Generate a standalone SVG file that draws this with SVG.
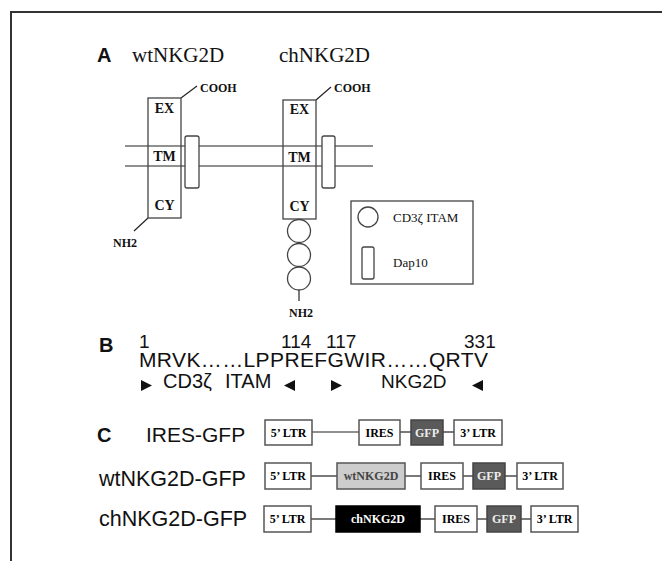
<svg xmlns="http://www.w3.org/2000/svg" width="662" height="561" viewBox="0 0 662 561">
<style>
.ser{font-family:"Liberation Serif","Times New Roman",serif;fill:#111}
.sb{font-family:"Liberation Serif","Times New Roman",serif;font-weight:bold;fill:#111}
.sans{font-family:"Liberation Sans",Arial,sans-serif;fill:#111}
.lab{font-family:"Liberation Sans",Arial,sans-serif;font-weight:bold;fill:#111}
.ln{stroke:#222;stroke-width:1.2;fill:none}
.box{fill:#fff;stroke:#555;stroke-width:1.5}
.mol{fill:none;stroke:#444;stroke-width:1.3}
.wf{fill:#fff;stroke:#444;stroke-width:1.3}
.bt{font-family:"Liberation Serif","Times New Roman",serif;font-weight:bold;font-size:12px;text-anchor:middle}
</style>
<rect width="662" height="561" fill="#fff"/>
<path d="M11 561 V12 H662" fill="none" stroke="#333" stroke-width="2"/>

<!-- Panel A -->
<text class="lab" x="97" y="62" font-size="20">A</text>
<text class="ser" x="132" y="62" font-size="21">wtNKG2D</text>
<text class="ser" x="279" y="62" font-size="21">chNKG2D</text>

<g id="membrane">
<line class="ln" x1="125" y1="146" x2="373" y2="146"/>
<line class="ln" x1="125" y1="166" x2="373" y2="166"/>
</g>

<g id="connectors">
<line class="ln" x1="181" y1="98" x2="197" y2="86"/>
<line class="ln" x1="148" y1="218" x2="134" y2="231"/>
<line class="ln" x1="316" y1="100" x2="331" y2="87"/>
<line class="ln" x1="299" y1="290" x2="299" y2="301"/>
<line class="ln" x1="312" y1="432" x2="359" y2="432"/>
<line class="ln" x1="400" y1="432" x2="411" y2="432"/>
<line class="ln" x1="443" y1="432" x2="454" y2="432"/>
<line class="ln" x1="311" y1="476" x2="337" y2="476"/>
<line class="ln" x1="405" y1="476" x2="421" y2="476"/>
<line class="ln" x1="463" y1="476" x2="473" y2="476"/>
<line class="ln" x1="505" y1="476" x2="517" y2="476"/>
<line class="ln" x1="311" y1="519" x2="336" y2="519"/>
<line class="ln" x1="420" y1="519" x2="435" y2="519"/>
<line class="ln" x1="477" y1="519" x2="487" y2="519"/>
<line class="ln" x1="521" y1="519" x2="531" y2="519"/>
</g>

<g id="wtNKG2D">
<rect class="mol" x="148" y="98" width="33" height="120"/>
<text class="sb" x="164.5" y="113" font-size="14" text-anchor="middle">EX</text>
<text class="sb" x="164.5" y="161" font-size="14" text-anchor="middle">TM</text>
<text class="sb" x="164.5" y="210" font-size="14" text-anchor="middle">CY</text>
<text class="sb" x="200" y="92" font-size="12">COOH</text>
<text class="sb" x="113" y="247" font-size="12">NH2</text>
</g>
<g id="wtDap10"><rect class="wf" x="185" y="136" width="14" height="52" rx="2"/></g>

<g id="chNKG2D">
<rect class="mol" x="283" y="100" width="33" height="119"/>
<text class="sb" x="299.5" y="114" font-size="14" text-anchor="middle">EX</text>
<text class="sb" x="299.5" y="162" font-size="14" text-anchor="middle">TM</text>
<text class="sb" x="299.5" y="211" font-size="14" text-anchor="middle">CY</text>
<text class="sb" x="334" y="92" font-size="12">COOH</text>
<circle class="wf" cx="299" cy="231" r="11.5"/>
<circle class="wf" cx="299" cy="255" r="11.5"/>
<circle class="wf" cx="299" cy="278.5" r="11.5"/>
<text class="sb" x="289" y="317" font-size="12">NH2</text>
</g>
<g id="chDap10"><rect class="wf" x="322" y="136" width="13" height="52" rx="2"/></g>

<g id="legend">
<rect x="351" y="201" width="122" height="83" fill="#fff" stroke="#444" stroke-width="1.3"/>
<circle class="wf" cx="368" cy="217" r="10"/>
<text class="ser" x="393" y="222" font-size="13">CD3ζ ITAM</text>
<rect class="wf" x="362" y="247" width="12" height="32" rx="2"/>
<text class="ser" x="393" y="267" font-size="13">Dap10</text>
</g>

<!-- Panel B -->
<g id="panelB">
<text class="lab" x="99" y="352" font-size="20">B</text>
<text class="sans" x="139" y="348" font-size="19">1</text>
<text class="sans" x="281" y="348" font-size="19">114</text>
<text class="sans" x="326" y="348" font-size="19">117</text>
<text class="sans" x="464" y="348" font-size="19">331</text>
<text class="sans" x="139" y="367" font-size="21" textLength="349" lengthAdjust="spacing">MRVK……LPPREFGWIR……QRTV</text>
<polygon points="141,380 152,385.5 141,391" fill="#111"/>
<text class="sans" x="163" y="388" font-size="20">CD3ζ</text>
<text class="sans" x="225" y="388" font-size="20">ITAM</text>
<polygon points="295,380 284,385.5 295,391" fill="#111"/>
<polygon points="331,380 342,385.5 331,391" fill="#111"/>
<text class="sans" x="381" y="388" font-size="19">NKG2D</text>
<polygon points="483,380 472,385.5 483,391" fill="#111"/>
</g>

<!-- Panel C -->
<text class="lab" x="97" y="442" font-size="20">C</text>
<text class="sans" x="146" y="442" font-size="21">IRES-GFP</text>
<text class="sans" x="99" y="486" font-size="21.5">wtNKG2D-GFP</text>
<text class="sans" x="99" y="526" font-size="21.5">chNKG2D-GFP</text>

<g id="r1-5LTR"><rect class="box" x="265" y="420" width="47" height="25"/><text class="bt" x="288.5" y="436.5">5’ LTR</text></g>
<g id="r1-IRES"><rect class="box" x="359" y="420" width="41" height="25"/><text class="bt" x="379.5" y="436.5">IRES</text></g>
<g id="r1-GFP"><rect x="411" y="420" width="32" height="25" fill="#5a5a5a" stroke="#444" stroke-width="1.5"/><text class="bt" x="427" y="436.5" fill="#eee" style="fill:#eee">GFP</text></g>
<g id="r1-3LTR"><rect class="box" x="454" y="420" width="48" height="25"/><text class="bt" x="478" y="436.5">3’ LTR</text></g>

<g id="r2-5LTR"><rect class="box" x="265" y="463" width="46" height="26"/><text class="bt" x="288" y="480">5’ LTR</text></g>
<g id="r2-wtNKG2D"><rect x="337" y="463" width="68" height="26" fill="#cdcdcd" stroke="#555" stroke-width="1.5"/><text class="bt" x="371" y="480" style="fill:#444" font-size="12.5">wtNKG2D</text></g>
<g id="r2-IRES"><rect class="box" x="421" y="463" width="42" height="26"/><text class="bt" x="442" y="480">IRES</text></g>
<g id="r2-GFP"><rect x="473" y="463" width="32" height="26" fill="#5a5a5a" stroke="#444" stroke-width="1.5"/><text class="bt" x="489" y="480" style="fill:#eee">GFP</text></g>
<g id="r2-3LTR"><rect class="box" x="517" y="463" width="46" height="26"/><text class="bt" x="540" y="480">3’ LTR</text></g>

<g id="r3-5LTR"><rect class="box" x="264" y="506" width="47" height="26"/><text class="bt" x="287.5" y="523">5’ LTR</text></g>
<g id="r3-chNKG2D"><rect x="336" y="506" width="84" height="26" fill="#000" stroke="#000" stroke-width="1.5"/><text class="bt" x="378" y="523" style="fill:#fff" font-size="12.5">chNKG2D</text></g>
<g id="r3-IRES"><rect class="box" x="435" y="506" width="42" height="26"/><text class="bt" x="456" y="523">IRES</text></g>
<g id="r3-GFP"><rect x="487" y="506" width="34" height="26" fill="#5a5a5a" stroke="#444" stroke-width="1.5"/><text class="bt" x="504" y="523" style="fill:#eee">GFP</text></g>
<g id="r3-3LTR"><rect class="box" x="531" y="506" width="47" height="26"/><text class="bt" x="554.5" y="523">3’ LTR</text></g>
</svg>
